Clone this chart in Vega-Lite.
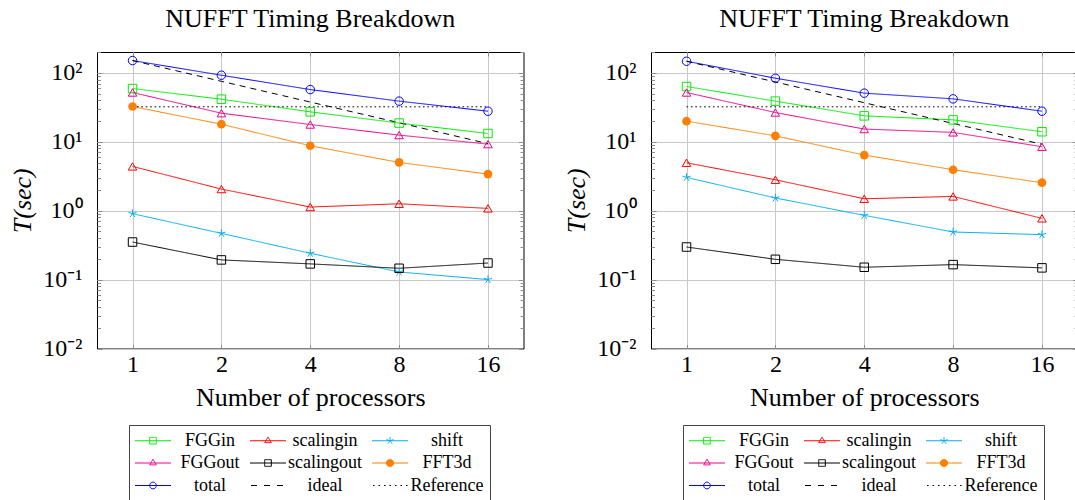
{
  "$schema": "https://vega.github.io/schema/vega-lite/v6.json",
  "padding": {"left": 9, "top": 5, "right": 0, "bottom": 0},
  "background": "white",
  "datasets": {
    "pts": [
      {"panel": "a", "series": "FGGin", "p": 1, "t": 59.3}, {"panel": "a", "series": "FGGin", "p": 2, "t": 41.5}, {"panel": "a", "series": "FGGin", "p": 4, "t": 27.2}, {"panel": "a", "series": "FGGin", "p": 8, "t": 18.7}, {"panel": "a", "series": "FGGin", "p": 16, "t": 13.2},
      {"panel": "a", "series": "scalingin", "p": 1, "t": 4.39}, {"panel": "a", "series": "scalingin", "p": 2, "t": 2.06}, {"panel": "a", "series": "scalingin", "p": 4, "t": 1.13}, {"panel": "a", "series": "scalingin", "p": 8, "t": 1.26}, {"panel": "a", "series": "scalingin", "p": 16, "t": 1.08},
      {"panel": "a", "series": "shift", "p": 1, "t": 0.905}, {"panel": "a", "series": "shift", "p": 2, "t": 0.469}, {"panel": "a", "series": "shift", "p": 4, "t": 0.241}, {"panel": "a", "series": "shift", "p": 8, "t": 0.129}, {"panel": "a", "series": "shift", "p": 16, "t": 0.1},
      {"panel": "a", "series": "FGGout", "p": 1, "t": 51.9}, {"panel": "a", "series": "FGGout", "p": 2, "t": 26.0}, {"panel": "a", "series": "FGGout", "p": 4, "t": 17.8}, {"panel": "a", "series": "FGGout", "p": 8, "t": 12.5}, {"panel": "a", "series": "FGGout", "p": 16, "t": 9.25},
      {"panel": "a", "series": "scalingout", "p": 1, "t": 0.351}, {"panel": "a", "series": "scalingout", "p": 2, "t": 0.193}, {"panel": "a", "series": "scalingout", "p": 4, "t": 0.169}, {"panel": "a", "series": "scalingout", "p": 8, "t": 0.146}, {"panel": "a", "series": "scalingout", "p": 16, "t": 0.174},
      {"panel": "a", "series": "FFT3d", "p": 1, "t": 32.5}, {"panel": "a", "series": "FFT3d", "p": 2, "t": 18.0}, {"panel": "a", "series": "FFT3d", "p": 4, "t": 8.75}, {"panel": "a", "series": "FFT3d", "p": 8, "t": 5.02}, {"panel": "a", "series": "FFT3d", "p": 16, "t": 3.40},
      {"panel": "a", "series": "total", "p": 1, "t": 151}, {"panel": "a", "series": "total", "p": 2, "t": 92.5}, {"panel": "a", "series": "total", "p": 4, "t": 57.3}, {"panel": "a", "series": "total", "p": 8, "t": 38.9}, {"panel": "a", "series": "total", "p": 16, "t": 27.8},
      {"panel": "a", "series": "ideal", "p": 1, "t": 151}, {"panel": "a", "series": "ideal", "p": 2, "t": 75.5}, {"panel": "a", "series": "ideal", "p": 4, "t": 37.75}, {"panel": "a", "series": "ideal", "p": 8, "t": 18.9}, {"panel": "a", "series": "ideal", "p": 16, "t": 9.4},
      {"panel": "a", "series": "Reference", "p": 1, "t": 32.2}, {"panel": "a", "series": "Reference", "p": 2, "t": 32.2}, {"panel": "a", "series": "Reference", "p": 4, "t": 32.2}, {"panel": "a", "series": "Reference", "p": 8, "t": 32.2}, {"panel": "a", "series": "Reference", "p": 16, "t": 32.2},
      {"panel": "b", "series": "FGGin", "p": 1, "t": 63.4}, {"panel": "b", "series": "FGGin", "p": 2, "t": 38.9}, {"panel": "b", "series": "FGGin", "p": 4, "t": 23.8}, {"panel": "b", "series": "FGGin", "p": 8, "t": 20.8}, {"panel": "b", "series": "FGGin", "p": 16, "t": 14.0},
      {"panel": "b", "series": "scalingin", "p": 1, "t": 4.96}, {"panel": "b", "series": "scalingin", "p": 2, "t": 2.81}, {"panel": "b", "series": "scalingin", "p": 4, "t": 1.49}, {"panel": "b", "series": "scalingin", "p": 8, "t": 1.61}, {"panel": "b", "series": "scalingin", "p": 16, "t": 0.774},
      {"panel": "b", "series": "shift", "p": 1, "t": 3.04}, {"panel": "b", "series": "shift", "p": 2, "t": 1.53}, {"panel": "b", "series": "shift", "p": 4, "t": 0.856}, {"panel": "b", "series": "shift", "p": 8, "t": 0.491}, {"panel": "b", "series": "shift", "p": 16, "t": 0.449},
      {"panel": "b", "series": "FGGout", "p": 1, "t": 51.9}, {"panel": "b", "series": "FGGout", "p": 2, "t": 26.6}, {"panel": "b", "series": "FGGout", "p": 4, "t": 15.3}, {"panel": "b", "series": "FGGout", "p": 8, "t": 13.7}, {"panel": "b", "series": "FGGout", "p": 16, "t": 8.47},
      {"panel": "b", "series": "scalingout", "p": 1, "t": 0.297}, {"panel": "b", "series": "scalingout", "p": 2, "t": 0.197}, {"panel": "b", "series": "scalingout", "p": 4, "t": 0.151}, {"panel": "b", "series": "scalingout", "p": 8, "t": 0.165}, {"panel": "b", "series": "scalingout", "p": 16, "t": 0.148},
      {"panel": "b", "series": "FFT3d", "p": 1, "t": 19.9}, {"panel": "b", "series": "FFT3d", "p": 2, "t": 12.2}, {"panel": "b", "series": "FFT3d", "p": 4, "t": 6.41}, {"panel": "b", "series": "FFT3d", "p": 8, "t": 3.93}, {"panel": "b", "series": "FFT3d", "p": 16, "t": 2.55},
      {"panel": "b", "series": "total", "p": 1, "t": 147.6}, {"panel": "b", "series": "total", "p": 2, "t": 83.7}, {"panel": "b", "series": "total", "p": 4, "t": 50.8}, {"panel": "b", "series": "total", "p": 8, "t": 42.0}, {"panel": "b", "series": "total", "p": 16, "t": 27.8},
      {"panel": "b", "series": "ideal", "p": 1, "t": 147.6}, {"panel": "b", "series": "ideal", "p": 2, "t": 73.8}, {"panel": "b", "series": "ideal", "p": 4, "t": 36.9}, {"panel": "b", "series": "ideal", "p": 8, "t": 18.45}, {"panel": "b", "series": "ideal", "p": 16, "t": 9.2},
      {"panel": "b", "series": "Reference", "p": 1, "t": 32.2}, {"panel": "b", "series": "Reference", "p": 2, "t": 32.2}, {"panel": "b", "series": "Reference", "p": 4, "t": 32.2}, {"panel": "b", "series": "Reference", "p": 8, "t": 32.2}, {"panel": "b", "series": "Reference", "p": 16, "t": 32.2}
    ]
  },
  "data": {"name": "pts"},
  "spacing": 38,
  "resolve": {"scale": {"x": "independent", "y": "independent", "color": "independent", "shape": "independent", "strokeDash": "independent"}, "legend": {"color": "independent"}},
  "hconcat": [
    {
      "width": 426.5, "height": 296.5,
      "title": {"text": "NUFFT Timing Breakdown"},
      "transform": [{"filter": "datum.panel === 'a'"}],
      "layer": [
        {
          "mark": {"type": "line", "strokeWidth": 1},
          "encoding": {
            "x": {"field": "p", "type": "quantitative", "scale": {"type": "log", "base": 2, "domain": [0.7579, 21.11], "nice": false}, "axis": {"orient": "bottom", "values": [1, 2, 4, 8, 16], "format": "d", "title": "Number of processors", "grid": true, "tickSize": -4, "labelPadding": 8, "titlePadding": 8, "labelFlush": false}},
            "y": {"field": "t", "type": "quantitative", "scale": {"type": "log", "domain": [0.01, 201], "nice": false}, "axis": {"orient": "left", "values": [0.01, 0.02, 0.03, 0.04, 0.05, 0.06, 0.07, 0.08, 0.09, 0.1, 0.2, 0.3, 0.4, 0.5, 0.6, 0.7, 0.8, 0.9, 1, 2, 3, 4, 5, 6, 7, 8, 9, 10, 20, 30, 40, 50, 60, 70, 80, 90, 100, 200], "labelExpr": "abs(log(datum.value)/LN10 - round(log(datum.value)/LN10)) < 0.001 ? ['10⁻²','10⁻¹','10⁰','10¹','10²'][round(log(datum.value)/LN10)+2] : ''", "title": "T(sec)", "titleFontStyle": "italic", "titleFontSize": 26, "grid": true, "gridOpacity": {"condition": {"test": "abs(log(datum.value)/LN10 - round(log(datum.value)/LN10)) < 0.001", "value": 1}, "value": 0}, "tickSize": {"condition": {"test": "abs(log(datum.value)/LN10 - round(log(datum.value)/LN10)) < 0.001", "value": -5}, "value": -3.5}, "labelPadding": 20, "titlePadding": 7, "labelOverlap": false, "labelFlush": false}},
            "color": {"field": "series", "type": "nominal", "scale": {"domain": ["FGGin", "scalingin", "shift", "FGGout", "scalingout", "FFT3d", "total", "ideal", "Reference"], "range": ["#00ee00", "#ff0000", "#00aeef", "#ec008c", "#000000", "#ff8000", "#0000ff", "#000000", "#000000"]},
              "legend": {"orient": "none", "direction": "horizontal", "legendX": 32, "legendY": 373, "title": null, "columns": 3, "symbolSize": 324, "symbolStrokeWidth": 1, "labelFontSize": 18, "labelAlign": "center", "labelOffset": 56, "columnPadding": 7, "rowPadding": 3.5, "padding": 6, "strokeColor": "#444", "fillColor": "white",
                "encode": {"symbols": {"update": {
                  "shape": {"signal": "{'FGGin': 'M-1.056,0H2.944M0.574,-0.37H1.314V0.37H0.574Z', 'scalingout': 'M-1.056,0H2.944M0.574,-0.37H1.314V0.37H0.574Z', 'scalingin': 'M-1.056,0H2.944M0.944,-0.42L1.31,0.21L0.578,0.21Z', 'FGGout': 'M-1.056,0H2.944M0.944,-0.42L1.31,0.21L0.578,0.21Z', 'shift': 'M-1.056,0H2.944M0.944,0V-0.42M0.944,0L1.343,-0.13M0.944,0L1.191,0.34M0.944,0L0.697,0.34M0.944,0L0.545,-0.13', 'FFT3d': 'M-1.056,0H2.944M0.544,0A0.4,0.4 0 1,0 1.344,0A0.4,0.4 0 1,0 0.544,0Z', 'total': 'M-1.056,0H2.944M0.574,0A0.37,0.37 0 1,0 1.314,0A0.37,0.37 0 1,0 0.574,0Z', 'ideal': 'M-0.944,0H-0.167M0.5,0H1.278M1.944,0H2.722', 'Reference': 'M-0.944,0h0.17M-0.333,0h0.17M0.278,0h0.17M0.889,0h0.17M1.5,0h0.17M2.111,0h0.17M2.722,0h0.17'}[datum.value]"},
                  "fill": {"signal": "datum.value === 'FFT3d' ? '#ff8000' : 'transparent'"},
                  "strokeDash": {"value": [1, 0]},
                  "opacity": {"value": 1}
                }}}
              }},
            "strokeDash": {"field": "series", "type": "nominal", "scale": {"domain": ["FGGin", "scalingin", "shift", "FGGout", "scalingout", "FFT3d", "total", "ideal", "Reference"], "range": [[1, 0], [1, 0], [1, 0], [1, 0], [1, 0], [1, 0], [1, 0], [6, 5], [1.6, 2.8]]}, "legend": null}
          }
        },
        {
          "transform": [{"filter": "indexof(['FGGin','scalingin','shift','FGGout','scalingout','total'], datum.series) >= 0"}],
          "mark": {"type": "point", "filled": false, "strokeWidth": 1, "size": 72, "opacity": 1},
          "encoding": {
            "x": {"field": "p", "type": "quantitative", "scale": {"type": "log", "base": 2, "domain": [0.7579, 21.11], "nice": false}, "axis": {"orient": "top", "values": [1, 2, 4, 8, 16], "labels": false, "title": null, "grid": false, "tickSize": -4}},
            "y": {"field": "t", "type": "quantitative", "scale": {"type": "log", "domain": [0.01, 201], "nice": false}, "axis": {"orient": "right", "values": [0.01, 0.02, 0.03, 0.04, 0.05, 0.06, 0.07, 0.08, 0.09, 0.1, 0.2, 0.3, 0.4, 0.5, 0.6, 0.7, 0.8, 0.9, 1, 2, 3, 4, 5, 6, 7, 8, 9, 10, 20, 30, 40, 50, 60, 70, 80, 90, 100, 200], "labels": false, "title": null, "grid": false, "tickSize": {"condition": {"test": "abs(log(datum.value)/LN10 - round(log(datum.value)/LN10)) < 0.001", "value": -5}, "value": -3.5}}},
            "color": {"field": "series", "type": "nominal", "legend": null},
            "shape": {"field": "series", "type": "nominal", "scale": {"domain": ["FGGin", "scalingin", "shift", "FGGout", "scalingout", "total"], "range": ["square", "triangle-up", "M0,0V-1M0,0L0.951,-0.309M0,0L0.588,0.809M0,0L-0.588,0.809M0,0L-0.951,-0.309", "triangle-up", "square", "circle"]}, "legend": null}
          }
        },
        {
          "transform": [{"filter": "datum.series === 'FFT3d'"}],
          "mark": {"type": "point", "filled": true, "shape": "circle", "size": 75, "color": "#ff8000", "opacity": 1},
          "encoding": {
            "x": {"field": "p", "type": "quantitative", "scale": {"type": "log", "base": 2, "domain": [0.7579, 21.11], "nice": false}, "axis": null},
            "y": {"field": "t", "type": "quantitative", "scale": {"type": "log", "domain": [0.01, 201], "nice": false}, "axis": null}
          }
        }
      ],
      "resolve": {"axis": {"x": "independent", "y": "independent"}}
    },
    {
      "width": 426.5, "height": 296.5,
      "title": {"text": "NUFFT Timing Breakdown"},
      "transform": [{"filter": "datum.panel === 'b'"}],
      "layer": [
        {
          "mark": {"type": "line", "strokeWidth": 1},
          "encoding": {
            "x": {"field": "p", "type": "quantitative", "scale": {"type": "log", "base": 2, "domain": [0.7579, 21.11], "nice": false}, "axis": {"orient": "bottom", "values": [1, 2, 4, 8, 16], "format": "d", "title": "Number of processors", "grid": true, "tickSize": -4, "labelPadding": 8, "titlePadding": 8, "labelFlush": false}},
            "y": {"field": "t", "type": "quantitative", "scale": {"type": "log", "domain": [0.01, 201], "nice": false}, "axis": {"orient": "left", "values": [0.01, 0.02, 0.03, 0.04, 0.05, 0.06, 0.07, 0.08, 0.09, 0.1, 0.2, 0.3, 0.4, 0.5, 0.6, 0.7, 0.8, 0.9, 1, 2, 3, 4, 5, 6, 7, 8, 9, 10, 20, 30, 40, 50, 60, 70, 80, 90, 100, 200], "labelExpr": "abs(log(datum.value)/LN10 - round(log(datum.value)/LN10)) < 0.001 ? ['10⁻²','10⁻¹','10⁰','10¹','10²'][round(log(datum.value)/LN10)+2] : ''", "title": "T(sec)", "titleFontStyle": "italic", "titleFontSize": 26, "grid": true, "gridOpacity": {"condition": {"test": "abs(log(datum.value)/LN10 - round(log(datum.value)/LN10)) < 0.001", "value": 1}, "value": 0}, "tickSize": {"condition": {"test": "abs(log(datum.value)/LN10 - round(log(datum.value)/LN10)) < 0.001", "value": -5}, "value": -3.5}, "labelPadding": 20, "titlePadding": 7, "labelOverlap": false, "labelFlush": false}},
            "color": {"field": "series", "type": "nominal", "scale": {"domain": ["FGGin", "scalingin", "shift", "FGGout", "scalingout", "FFT3d", "total", "ideal", "Reference"], "range": ["#00ee00", "#ff0000", "#00aeef", "#ec008c", "#000000", "#ff8000", "#0000ff", "#000000", "#000000"]},
              "legend": {"orient": "none", "direction": "horizontal", "legendX": 32, "legendY": 373, "title": null, "columns": 3, "symbolSize": 324, "symbolStrokeWidth": 1, "labelFontSize": 18, "labelAlign": "center", "labelOffset": 56, "columnPadding": 7, "rowPadding": 3.5, "padding": 6, "strokeColor": "#444", "fillColor": "white",
                "encode": {"symbols": {"update": {
                  "shape": {"signal": "{'FGGin': 'M-1.056,0H2.944M0.574,-0.37H1.314V0.37H0.574Z', 'scalingout': 'M-1.056,0H2.944M0.574,-0.37H1.314V0.37H0.574Z', 'scalingin': 'M-1.056,0H2.944M0.944,-0.42L1.31,0.21L0.578,0.21Z', 'FGGout': 'M-1.056,0H2.944M0.944,-0.42L1.31,0.21L0.578,0.21Z', 'shift': 'M-1.056,0H2.944M0.944,0V-0.42M0.944,0L1.343,-0.13M0.944,0L1.191,0.34M0.944,0L0.697,0.34M0.944,0L0.545,-0.13', 'FFT3d': 'M-1.056,0H2.944M0.544,0A0.4,0.4 0 1,0 1.344,0A0.4,0.4 0 1,0 0.544,0Z', 'total': 'M-1.056,0H2.944M0.574,0A0.37,0.37 0 1,0 1.314,0A0.37,0.37 0 1,0 0.574,0Z', 'ideal': 'M-0.944,0H-0.167M0.5,0H1.278M1.944,0H2.722', 'Reference': 'M-0.944,0h0.17M-0.333,0h0.17M0.278,0h0.17M0.889,0h0.17M1.5,0h0.17M2.111,0h0.17M2.722,0h0.17'}[datum.value]"},
                  "fill": {"signal": "datum.value === 'FFT3d' ? '#ff8000' : 'transparent'"},
                  "strokeDash": {"value": [1, 0]},
                  "opacity": {"value": 1}
                }}}
              }},
            "strokeDash": {"field": "series", "type": "nominal", "scale": {"domain": ["FGGin", "scalingin", "shift", "FGGout", "scalingout", "FFT3d", "total", "ideal", "Reference"], "range": [[1, 0], [1, 0], [1, 0], [1, 0], [1, 0], [1, 0], [1, 0], [6, 5], [1.6, 2.8]]}, "legend": null}
          }
        },
        {
          "transform": [{"filter": "indexof(['FGGin','scalingin','shift','FGGout','scalingout','total'], datum.series) >= 0"}],
          "mark": {"type": "point", "filled": false, "strokeWidth": 1, "size": 72, "opacity": 1},
          "encoding": {
            "x": {"field": "p", "type": "quantitative", "scale": {"type": "log", "base": 2, "domain": [0.7579, 21.11], "nice": false}, "axis": {"orient": "top", "values": [1, 2, 4, 8, 16], "labels": false, "title": null, "grid": false, "tickSize": -4}},
            "y": {"field": "t", "type": "quantitative", "scale": {"type": "log", "domain": [0.01, 201], "nice": false}, "axis": {"orient": "right", "values": [0.01, 0.02, 0.03, 0.04, 0.05, 0.06, 0.07, 0.08, 0.09, 0.1, 0.2, 0.3, 0.4, 0.5, 0.6, 0.7, 0.8, 0.9, 1, 2, 3, 4, 5, 6, 7, 8, 9, 10, 20, 30, 40, 50, 60, 70, 80, 90, 100, 200], "labels": false, "title": null, "grid": false, "tickSize": {"condition": {"test": "abs(log(datum.value)/LN10 - round(log(datum.value)/LN10)) < 0.001", "value": -5}, "value": -3.5}}},
            "color": {"field": "series", "type": "nominal", "legend": null},
            "shape": {"field": "series", "type": "nominal", "scale": {"domain": ["FGGin", "scalingin", "shift", "FGGout", "scalingout", "total"], "range": ["square", "triangle-up", "M0,0V-1M0,0L0.951,-0.309M0,0L0.588,0.809M0,0L-0.588,0.809M0,0L-0.951,-0.309", "triangle-up", "square", "circle"]}, "legend": null}
          }
        },
        {
          "transform": [{"filter": "datum.series === 'FFT3d'"}],
          "mark": {"type": "point", "filled": true, "shape": "circle", "size": 75, "color": "#ff8000", "opacity": 1},
          "encoding": {
            "x": {"field": "p", "type": "quantitative", "scale": {"type": "log", "base": 2, "domain": [0.7579, 21.11], "nice": false}, "axis": null},
            "y": {"field": "t", "type": "quantitative", "scale": {"type": "log", "domain": [0.01, 201], "nice": false}, "axis": null}
          }
        }
      ],
      "resolve": {"axis": {"x": "independent", "y": "independent"}}
    }
  ],
  "config": {
    "font": "Liberation Serif",
    "view": {"stroke": "#000000", "strokeWidth": 1},
    "title": {"font": "Liberation Serif", "fontSize": 26, "fontWeight": "normal", "color": "#000000", "offset": 8},
    "axis": {"domain": false, "labelFont": "Liberation Serif", "labelFontSize": 24, "labelColor": "#000000", "titleFont": "Liberation Serif", "titleFontSize": 26, "titleFontWeight": "normal", "titleColor": "#000000", "gridColor": "#c8c8c8", "gridWidth": 1, "tickColor": "#8c8c8c", "tickWidth": 1},
    "legend": {"labelFont": "Liberation Serif", "labelColor": "#000000"}
  }
}
